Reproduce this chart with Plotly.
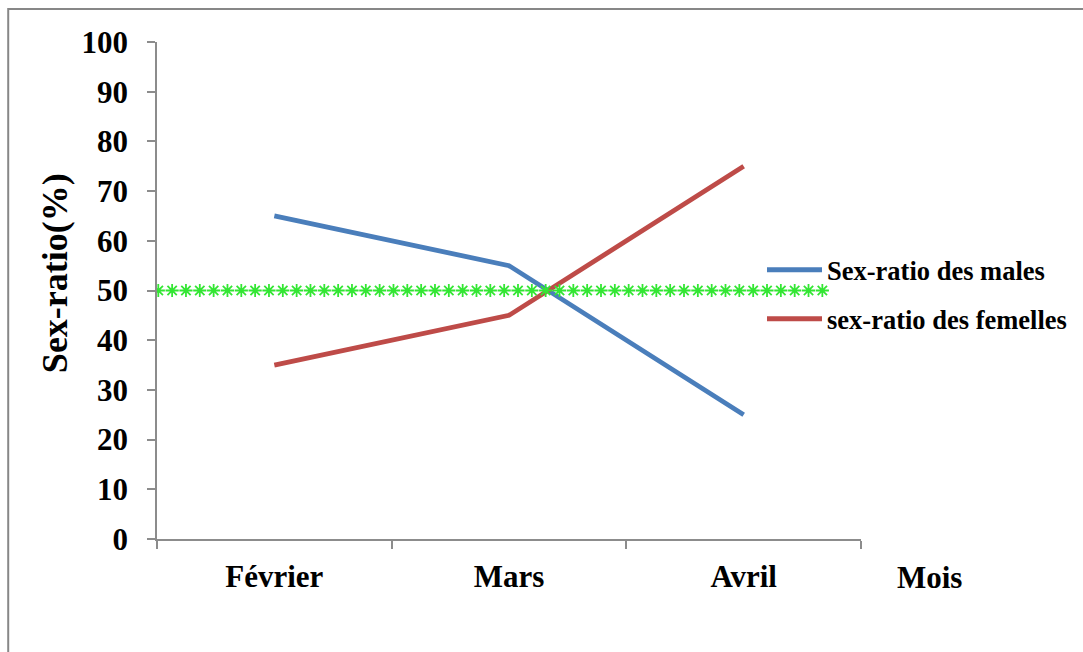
import numpy as np
import plotly.graph_objects as go

# Months on the x axis
mois = ["Février", "Mars", "Avril"]

# Sex-ratio (%) per month
males = [65, 55, 25]
femelles = [35, 45, 75]

# Equilibrium reference level (%)
equilibre = 50
n_etoiles = 49

y_ticks = list(range(0, 101, 10))

FONT = "Liberation Serif"
AXIS_GREY = "#8c8c8c"
VERT = "#33e633"

fig = go.Figure()

fig.add_trace(go.Scatter(
    x=mois, y=males, mode="lines", name="Sex-ratio des males",
    line=dict(color="#4a7ebb", width=4.8), legend="legend",
))
fig.add_trace(go.Scatter(
    x=mois, y=femelles, mode="lines", name="sex-ratio des femelles",
    line=dict(color="#be4b48", width=4.8), legend="legend2",
))

# Row of asterisks marking the 50 % level, on an overlaid linear x axis
etoiles_x = np.linspace(-0.4945, 2.3353, n_etoiles)
fig.add_trace(go.Scatter(
    x=etoiles_x, y=[equilibre] * n_etoiles, mode="markers", xaxis="x2",
    marker=dict(symbol="asterisk-open", size=11, color=VERT,
                line=dict(color=VERT, width=1.8)),
    showlegend=False, hoverinfo="skip",
))

W, H = 1083, 652
L, R, T, B = 157, 862, 42, 539
pw, ph = R - L, B - T


def px(xp):
    return (xp - L) / pw


def py(yp):
    return (B - yp) / ph


legend_font = dict(family=FONT, size=26.5, color="black", weight="bold")

fig.update_layout(
    width=W, height=H,
    margin=dict(l=L, r=W - R, t=T, b=H - B, pad=0),
    paper_bgcolor="white", plot_bgcolor="white",
    font=dict(family=FONT, color="black"),
    xaxis=dict(
        type="category", range=[-0.5, 2.5], tickson="boundaries",
        ticks="outside", ticklen=8, tickcolor=AXIS_GREY, tickwidth=1.5,
        showline=True, linecolor=AXIS_GREY, linewidth=1.5,
        showgrid=False, zeroline=False,
        tickfont=dict(family=FONT, size=31, color="black", weight="bold"),
        ticklabelstandoff=9,
    ),
    xaxis2=dict(
        overlaying="x", range=[-0.5, 2.5], visible=False,
    ),
    yaxis=dict(
        range=[0, 100], tickvals=y_ticks,
        ticks="outside", ticklen=8, tickcolor=AXIS_GREY, tickwidth=1.5,
        showline=True, linecolor=AXIS_GREY, linewidth=1.5,
        showgrid=False, zeroline=False,
        tickfont=dict(family=FONT, size=31, color="black", weight="bold"),
        ticklabelstandoff=13,
    ),
    legend=dict(
        x=px(762), y=py(270), xanchor="left", yanchor="middle",
        font=legend_font, itemwidth=55, bgcolor="rgba(0,0,0,0)",
    ),
    legend2=dict(
        x=px(762), y=py(319), xanchor="left", yanchor="middle",
        font=legend_font, itemwidth=55, bgcolor="rgba(0,0,0,0)",
    ),
    annotations=[
        dict(text="Sex-ratio(%)", textangle=-90, xref="paper", yref="paper",
             x=px(55), y=py(273), xanchor="center", yanchor="middle",
             showarrow=False,
             font=dict(family=FONT, size=36, color="black", weight="bold")),
        dict(text="Mois", xref="paper", yref="paper",
             x=px(931), y=py(577), xanchor="center", yanchor="middle",
             showarrow=False,
             font=dict(family=FONT, size=31, color="black", weight="bold")),
    ],
    shapes=[
        dict(type="rect", xref="paper", yref="paper",
             x0=px(8), y0=py(680), x1=px(1110), y1=py(9),
             line=dict(color="#878787", width=2), fillcolor="rgba(0,0,0,0)",
             layer="below"),
    ],
)

fig.write_html("out.html")
